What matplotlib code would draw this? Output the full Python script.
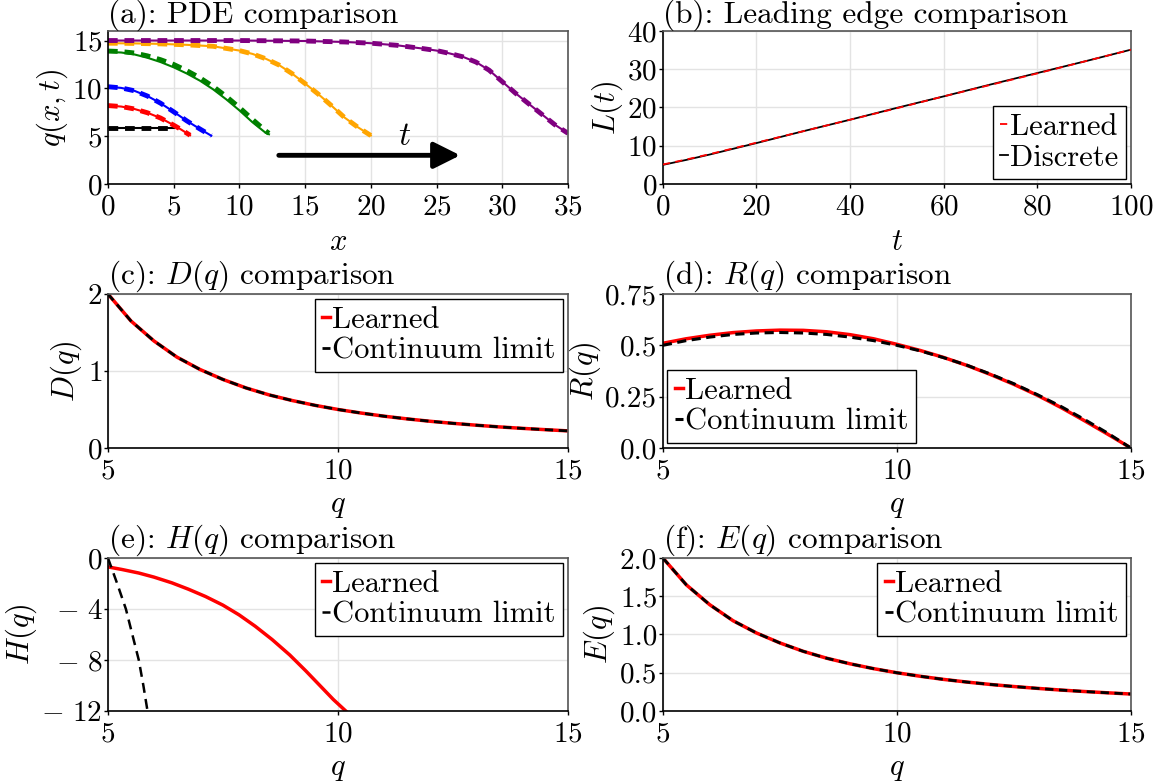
import numpy as np
import matplotlib
matplotlib.use("Agg")
import matplotlib.pyplot as plt

plt.rcParams["font.family"] = "serif"
plt.rcParams["font.serif"] = ["cmr10", "DejaVu Serif"]
plt.rcParams["mathtext.fontset"] = "cm"
plt.rcParams["axes.formatter.use_mathtext"] = True
plt.rcParams["font.size"] = 21

# (a) PDE profiles: learned (solid) and discrete (dashed)
x_black = [0, 1, 2, 3, 4, 5]
q_black = [5.82, 5.82, 5.82, 5.82, 5.82, 5.82]

x_red = [0, 1, 2, 3, 4, 5, 5.5, 6.25]
q_red = [8.2, 8.1, 7.85, 7.45, 6.9, 6.15, 5.75, 5.1]

x_blue = [0, 1, 2, 3, 4, 5, 6, 7, 7.86]
q_blue = [10.17, 10.05, 9.75, 9.2, 8.45, 7.55, 6.6, 5.75, 5.05]

x_green = [0, 1, 2, 3, 4, 5, 6, 7, 8, 9, 10, 11, 12, 12.25]
q_green = [13.8, 13.75, 13.55, 13.2, 12.75, 12.2, 11.55, 10.8, 9.9, 8.85, 7.7, 6.45, 5.35, 5.2]
q_green_dash = [13.9, 13.85, 13.7, 13.4, 13.0, 12.5, 11.85, 11.1, 10.2, 9.15, 8.0, 6.75, 5.55, 5.3]

x_orange = [0, 2, 4, 6, 8, 10, 11, 12, 13, 14, 15, 16, 17, 18, 19, 20]
q_orange = [14.72, 14.7, 14.65, 14.55, 14.4, 13.95, 13.6, 13.1, 12.45, 11.55, 10.5, 9.4, 8.2, 6.95, 5.95, 5.07]

x_purple = [0, 10, 15, 18, 20, 22, 24, 25, 26, 27, 28, 29, 30, 31, 32, 33, 34, 35]
q_purple = [15.0, 15.0, 14.95, 14.85, 14.72, 14.5, 14.15, 13.95, 13.65, 13.3, 12.75, 11.9, 10.7, 9.5, 8.4, 7.3, 6.2, 5.3]

# (b) leading edge
t_vals = [0, 5, 10, 20, 30, 40, 50, 60, 70, 80, 90, 100]
L_learned = [5.1, 6.4, 7.8, 10.8, 13.8, 16.8, 19.8, 22.9, 25.9, 28.9, 32.0, 35.1]
L_discrete = [5.0, 6.3, 7.7, 10.7, 13.8, 16.8, 19.9, 22.9, 26.0, 29.0, 32.0, 35.1]

# (c)-(f) functions of q
q_vals = [5, 5.5, 6, 6.5, 7, 7.5, 8, 8.5, 9, 9.5, 10, 10.5, 11, 11.5, 12, 12.5, 13, 13.5, 14, 14.5, 15]
D_learned = [2.0, 1.65, 1.39, 1.18, 1.02, 0.89, 0.78, 0.69, 0.617, 0.554, 0.50, 0.454, 0.413, 0.378,
             0.347, 0.32, 0.296, 0.274, 0.255, 0.238, 0.222]
D_cont = list(D_learned)
R_learned = [0.51, 0.532, 0.549, 0.562, 0.57, 0.574, 0.573, 0.566, 0.552, 0.532, 0.505, 0.475, 0.441, 0.402,
             0.358, 0.31, 0.257, 0.198, 0.134, 0.068, 0.0]
R_cont = [0.5, 0.523, 0.54, 0.553, 0.56, 0.5625, 0.56, 0.553, 0.54, 0.523, 0.5, 0.473, 0.44, 0.403,
          0.36, 0.313, 0.26, 0.203, 0.14, 0.073, 0.0]
E_learned = [2.0, 1.65, 1.39, 1.18, 1.02, 0.89, 0.78, 0.69, 0.617, 0.554, 0.50, 0.454, 0.413, 0.378,
             0.347, 0.32, 0.296, 0.274, 0.255, 0.238, 0.222]
E_cont = list(E_learned)

qH_learned = [5.0, 5.3, 5.67, 6.0, 6.39, 6.75, 7.12, 7.5, 7.85, 8.2, 8.57, 8.95, 9.3, 9.66, 9.9, 10.17]
H_learned = [-0.7, -0.9, -1.18, -1.5, -1.95, -2.45, -3.02, -3.7, -4.46, -5.35, -6.4, -7.6, -8.85, -10.2, -11.1, -12.0]
qH_cont = [5.0, 5.2, 5.39, 5.53, 5.67, 5.77, 5.86]
H_cont = [0, -2, -4, -6, -8, -10, -12]

fig = plt.figure(figsize=(11.67, 7.84), dpi=100)

lefts = [0.0925, 0.568]
width_l = 0.4867 - 0.0925
width_r = 0.969 - 0.568
rows = [(0.7653, 0.9605), (0.4286, 0.625), (0.0931, 0.2883)]


def make_ax(col, row):
    b, t = rows[row]
    w = width_l if col == 0 else width_r
    ax = fig.add_axes([lefts[col], b, w, t - b])
    ax.grid(True, color="#e3e3e3", lw=1)
    ax.set_axisbelow(True)
    ax.tick_params(length=3, width=1, pad=4, labelsize=21)
    ax.tick_params(axis="y", pad=1)
    for s in ax.spines.values():
        s.set_linewidth(1.2)
    ax.spines["top"].set_color("#555555")
    ax.spines["right"].set_color("#555555")
    return ax


def style_legend(ax, loc, handles=None, labels=None):
    if handles is None:
        handles, labels = ax.get_legend_handles_labels()
    leg = ax.legend(handles, labels, loc=loc, handlelength=0.25, handletextpad=0.08,
                    borderpad=0.25, borderaxespad=0.15, labelspacing=0.12,
                    fancybox=False, framealpha=1, fontsize=22)
    leg.get_frame().set_edgecolor("black")
    leg.get_frame().set_linewidth(1.0)
    return leg


def labels(ax, xl, yl, title):
    ax.set_xlabel(xl, fontsize=22, labelpad=6)
    ax.set_ylabel(yl, fontsize=22, labelpad=2)
    ax.set_title(title, loc="left", pad=2, fontsize=22.5)


# (a)
ax = make_ax(0, 0)
ax.plot(x_black, q_black, color="black", lw=1.5)
ax.plot(x_black, q_black, color="black", lw=3.5, ls=(0, (2, 1.4)))
curves = [(x_red, q_red, q_red, "red"),
          (x_blue, q_blue, q_blue, "blue"),
          (x_green, q_green, q_green_dash, "green"),
          (x_orange, q_orange, q_orange, "orange"),
          (x_purple, q_purple, q_purple, "purple")]
for xs, qs, qd, c in curves:
    ax.plot(xs, qs, color=c, lw=1.5)
    ax.plot(xs, qd, color=c, lw=3.5, ls=(0, (2, 1.4)))
ax.annotate("", xy=(26.8, 3.0), xytext=(13.0, 3.0),
            arrowprops=dict(arrowstyle="-|>,head_length=0.8,head_width=0.4", lw=3.5,
                            color="black", mutation_scale=20, shrinkA=0, shrinkB=0))
ax.text(22.55, 5.0, r"$t$", fontsize=24, ha="center", va="center")
ax.set_xlim(0, 35)
ax.set_ylim(0, 16)
ax.set_xticks([0, 5, 10, 15, 20, 25, 30, 35])
ax.set_yticks([0, 5, 10, 15])
labels(ax, r"$x$", r"$q(x,t)$", "(a): PDE comparison")

# (b)
ax = make_ax(1, 0)
hd, = ax.plot(t_vals, L_discrete, color="black", lw=1.3, label="Discrete", zorder=2)
hl, = ax.plot(t_vals, L_learned, color="red", lw=1.3, ls=(0, (4, 3)), label="Learned", zorder=3)
style_legend(ax, "lower right", [hl, hd], ["Learned", "Discrete"])
ax.set_xlim(0, 100)
ax.set_ylim(0, 40)
ax.set_xticks([0, 20, 40, 60, 80, 100])
ax.set_yticks([0, 10, 20, 30, 40])
labels(ax, r"$t$", r"$L(t)$", "(b): Leading edge comparison")

# (c)
ax = make_ax(0, 1)
ax.plot(q_vals, D_learned, color="red", lw=2.5, label="Learned")
ax.plot(q_vals, D_cont, color="black", lw=2, ls=(0, (3, 2)), label="Continuum limit")
style_legend(ax, "upper right")
ax.set_xlim(5, 15)
ax.set_ylim(0, 2)
ax.set_xticks([5, 10, 15])
ax.set_yticks([0, 1, 2])
labels(ax, r"$q$", r"$D(q)$", r"(c): $D(q)$ comparison")

# (d)
ax = make_ax(1, 1)
ax.plot(q_vals, R_learned, color="red", lw=2.5, label="Learned")
ax.plot(q_vals, R_cont, color="black", lw=2.2, ls=(0, (3, 1.8)), label="Continuum limit")
style_legend(ax, "lower left")
ax.set_xlim(5, 15)
ax.set_ylim(0, 0.75)
ax.set_xticks([5, 10, 15])
ax.set_yticks([0, 0.25, 0.5, 0.75])
ax.set_yticklabels(["0.0", "0.25", "0.5", "0.75"])
labels(ax, r"$q$", r"$R(q)$", r"(d): $R(q)$ comparison")

# (e)
ax = make_ax(0, 2)
ax.plot(qH_learned, H_learned, color="red", lw=2.5, label="Learned")
ax.plot(qH_cont, H_cont, color="black", lw=1.8, ls=(0, (4, 2.5)), label="Continuum limit")
style_legend(ax, "upper right")
ax.set_xlim(5, 15)
ax.set_ylim(-12, 0)
ax.set_xticks([5, 10, 15])
ax.set_yticks([-12, -8, -4, 0])
ax.set_yticklabels([r"$-\ 12$", r"$-\ 8$", r"$-\ 4$", r"$0$"])
labels(ax, r"$q$", r"$H(q)$", r"(e): $H(q)$ comparison")

# (f)
ax = make_ax(1, 2)
ax.plot(q_vals, E_learned, color="red", lw=2.5, label="Learned")
ax.plot(q_vals, E_cont, color="black", lw=2, ls=(0, (3, 2)), label="Continuum limit")
style_legend(ax, "upper right")
ax.set_xlim(5, 15)
ax.set_ylim(0, 2)
ax.set_xticks([5, 10, 15])
ax.set_yticks([0, 0.5, 1.0, 1.5, 2.0])
ax.set_yticklabels(["0.0", "0.5", "1.0", "1.5", "2.0"])
labels(ax, r"$q$", r"$E(q)$", r"(f): $E(q)$ comparison")

fig.savefig("out.png", dpi=100)
